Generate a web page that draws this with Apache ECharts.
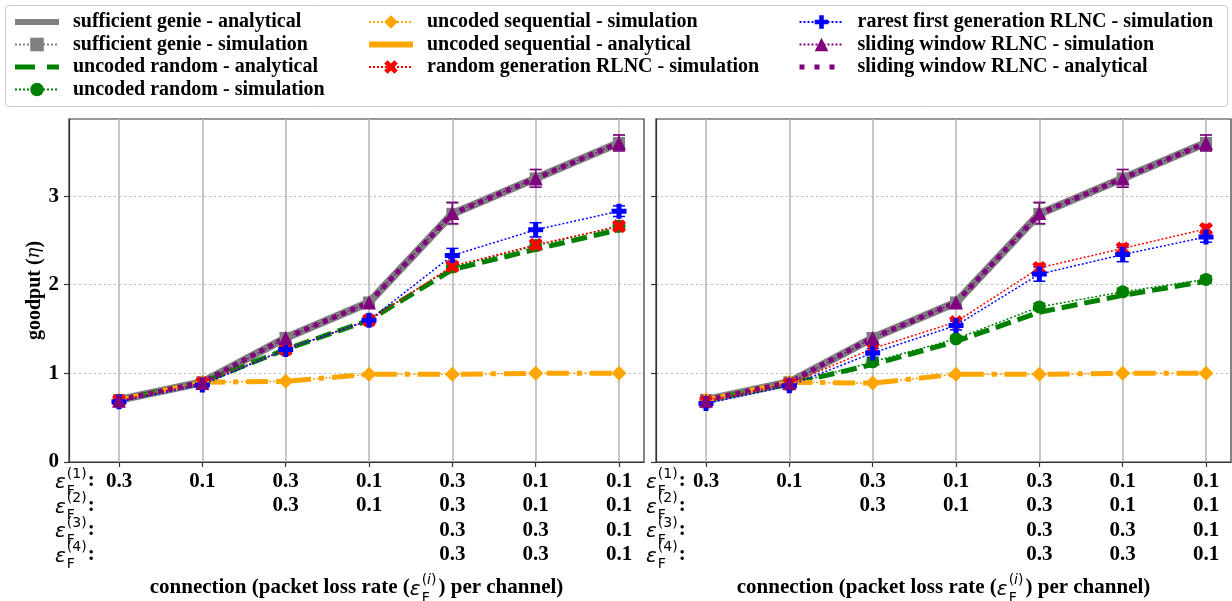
<!DOCTYPE html>
<html>
<head>
<meta charset="utf-8">
<script src="https://cdn.jsdelivr.net/npm/echarts@6/dist/echarts.min.js"></script>
<style>
  html, body { margin: 0; padding: 0; background: #fff; }
  #main { width: 1232px; height: 601px; }
</style>
</head>
<body>
<div id="main"></div>
<script>
// x positions and the loss-rate rows under each connection
const xPos = [0, 1, 2, 3, 4, 5, 6];
const row1 = ['0.3', '0.1', '0.3', '0.1', '0.3', '0.1', '0.1'];
const row2 = ['', '', '0.3', '0.1', '0.3', '0.1', '0.1'];
const row3 = ['', '', '', '', '0.3', '0.3', '0.1'];
const row4 = ['', '', '', '', '0.3', '0.3', '0.1'];
const yTicks = [0, 1, 2, 3];

// left panel
const genieAnaA = [0.7, 0.9, 1.4, 1.8, 2.8, 3.2, 3.6];
const genieSimA = [0.7, 0.9, 1.4, 1.8, 2.8, 3.2, 3.6];
const randAnaA = [0.7, 0.9, 1.27, 1.6, 2.17, 2.4, 2.62];
const randSimA = [0.69, 0.89, 1.27, 1.6, 2.2, 2.44, 2.66];
const seqSimA = [0.7, 0.9, 0.91, 0.99, 0.99, 1.0, 1.0];
const seqAnaA = [0.7, 0.9, 0.91, 0.99, 0.99, 1.0, 1.0];
const rgSimA = [0.69, 0.89, 1.27, 1.6, 2.21, 2.45, 2.66];
const rfSimA = [0.68, 0.87, 1.27, 1.6, 2.33, 2.62, 2.83];
const swSimA = [0.69, 0.89, 1.4, 1.8, 2.81, 3.2, 3.6];
const swAnaA = [0.7, 0.9, 1.4, 1.8, 2.8, 3.2, 3.6];

// right panel
const genieAnaB = [0.7, 0.9, 1.4, 1.8, 2.8, 3.2, 3.6];
const genieSimB = [0.7, 0.9, 1.4, 1.8, 2.8, 3.2, 3.6];
const randAnaB = [0.7, 0.88, 1.1, 1.36, 1.69, 1.88, 2.04];
const randSimB = [0.68, 0.87, 1.13, 1.39, 1.75, 1.92, 2.06];
const seqSimB = [0.7, 0.9, 0.89, 0.99, 0.99, 1.0, 1.0];
const seqAnaB = [0.7, 0.9, 0.89, 0.99, 0.99, 1.0, 1.0];
const rgSimB = [0.68, 0.88, 1.28, 1.58, 2.19, 2.41, 2.63];
const rfSimB = [0.66, 0.86, 1.23, 1.54, 2.12, 2.34, 2.54];
const swSimB = [0.69, 0.89, 1.4, 1.8, 2.81, 3.2, 3.6];
const swAnaB = [0.7, 0.9, 1.4, 1.8, 2.8, 3.2, 3.6];

// error bar half widths
const errGenie = [0.03, 0.03, 0.05, 0.05, 0.12, 0.1, 0.09];
const errRand = [0.02, 0.02, 0.03, 0.03, 0.04, 0.04, 0.04];
const errSeq = [0.01, 0.01, 0.01, 0.01, 0.01, 0.01, 0.01];
const errRg = [0.02, 0.02, 0.04, 0.04, 0.05, 0.05, 0.05];
const errRf = [0.03, 0.03, 0.05, 0.05, 0.08, 0.08, 0.06];
const errSw = [0.03, 0.03, 0.05, 0.05, 0.12, 0.1, 0.09];

const names = [
  'sufficient genie - analytical', 'sufficient genie - simulation',
  'uncoded random - analytical', 'uncoded random - simulation',
  'uncoded sequential - simulation', 'uncoded sequential - analytical',
  'random generation RLNC - simulation', 'rarest first generation RLNC - simulation',
  'sliding window RLNC - simulation', 'sliding window RLNC - analytical'
];
const panelData = [
  [genieAnaA, genieSimA, randAnaA, randSimA, seqSimA, seqAnaA, rgSimA, rfSimA, swSimA, swAnaA],
  [genieAnaB, genieSimB, randAnaB, randSimB, seqSimB, seqAnaB, rgSimB, rfSimB, swSimB, swAnaB]
];
const errs = [null, errGenie, null, errRand, errSeq, null, errRg, errRf, errSw, null];

const DOT = [2, 2];
const PLUS = 'path://M-1,-3L1,-3L1,-1L3,-1L3,1L1,1L1,3L-1,3L-1,1L-3,1L-3,-1L-1,-1Z';
const XMARK = 'path://M2,-4L4,-2L2,0L4,2L2,4L0,2L-2,4L-4,2L-2,0L-4,-2L-2,-4L0,-2Z';
const DIAM = 'path://M0,-1L1,0L0,1L-1,0Z';
const looks = [
  { color: '#808080', width: 8, type: 'solid', symbol: 'none', size: 0, legend: { width: 6, type: 'solid' } },
  { color: '#808080', width: 1.5, type: DOT, symbol: 'rect', size: 12 },
  { color: '#008000', width: 5, type: [16, 7], symbol: 'none', size: 0, legend: { width: 5, type: [20, 12] } },
  { color: '#008000', width: 1.5, type: DOT, symbol: 'circle', size: 13 },
  { color: '#ffa500', width: 1.5, type: DOT, symbol: DIAM, size: 15 },
  { color: '#ffa500', width: 5, type: [22, 8, 5, 8], symbol: 'none', size: 0, legend: { width: 6, type: 'solid' } },
  { color: '#ff0000', width: 1.5, type: DOT, symbol: XMARK, size: 14 },
  { color: '#0000ff', width: 1.5, type: DOT, symbol: PLUS, size: 15 },
  { color: '#800080', width: 1.2, type: DOT, symbol: 'triangle', size: 14 },
  { color: '#800080', width: 5, type: [5, 5], symbol: 'none', size: 0, legend: { width: 5, type: [5, 10] } }
];

const SERIF = '"Liberation Serif", "Times New Roman", serif';

function errorBars(p, k, vals, err) {
  const c = looks[k].color;
  return {
    type: 'custom',
    name: names[k] + ' err',
    xAxisIndex: p,
    yAxisIndex: p,
    silent: true,
    renderItem: function (params, api) {
      const a = api.coord([api.value(0), api.value(1)]);
      const b = api.coord([api.value(0), api.value(2)]);
      const w = 6;
      const st = { stroke: c, lineWidth: 1.5 };
      return {
        type: 'group',
        children: [
          { type: 'line', shape: { x1: a[0], y1: a[1], x2: b[0], y2: b[1] }, style: st },
          { type: 'line', shape: { x1: a[0] - w, y1: a[1], x2: a[0] + w, y2: a[1] }, style: st },
          { type: 'line', shape: { x1: b[0] - w, y1: b[1], x2: b[0] + w, y2: b[1] }, style: st }
        ]
      };
    },
    encode: { x: 0, y: [1, 2] },
    data: vals.map((v, i) => [xPos[i], v - err[i], v + err[i]])
  };
}

const series = [];
for (let p = 0; p < 2; p++) {
  for (let k = 0; k < names.length; k++) {
    const vals = panelData[p][k];
    const lk = looks[k];
    if (errs[k]) series.push(errorBars(p, k, vals, errs[k]));
    series.push({
      type: 'line',
      name: names[k],
      xAxisIndex: p,
      yAxisIndex: p,
      data: vals.map((v, i) => [xPos[i], v]),
      symbol: lk.symbol,
      symbolSize: lk.size,
      showSymbol: lk.symbol !== 'none',
      lineStyle: { color: lk.color, width: lk.width, type: lk.type, cap: 'butt' },
      itemStyle: { color: lk.color },
      emphasis: { disabled: true }
    });
  }
}

// text measuring for the stacked sub/superscripts
const mctx = document.createElement('canvas').getContext('2d');
function tw(t, font) { mctx.font = font; return mctx.measureText(t).width; }
const F_EPS = 'italic 20px "DejaVu Sans"';
const F_SMALL = '14px "DejaVu Sans"';
const F_SMALL_I = 'italic 14px "DejaVu Sans"';
const F_BOLD = 'bold 21px ' + SERIF;

function txt(x, y, t, font, align) {
  return {
    type: 'text', x: x, y: y, silent: true,
    style: { text: t, font: font, fill: '#000', textAlign: align || 'left', textVerticalAlign: 'middle' }
  };
}
function epsGroup(x, y, sup) {
  const we = tw('ε', F_EPS);
  const ws = Math.max(tw('F', F_SMALL), tw(sup, F_SMALL));
  return {
    els: [
      txt(x, y, 'ε', F_EPS),
      txt(x + we + 1, y + 8, 'F', F_SMALL),
      txt(x + we + 1, y - 9, sup, F_SMALL)
    ],
    w: we + 1 + ws
  };
}

const rowY = [481, 505.5, 530, 554.5];
const graphics = [
  { type: 'rect', shape: { x: 5.5, y: 5.5, width: 1222, height: 101, r: 3 }, style: { fill: 'none', stroke: '#cccccc', lineWidth: 1 }, silent: true }
];
const epsX = [55, 646];
for (let p = 0; p < 2; p++) {
  for (let r = 0; r < 4; r++) {
    const g = epsGroup(epsX[p], rowY[r] + 2, '(' + (r + 1) + ')');
    graphics.push(...g.els);
    graphics.push(txt(epsX[p] + g.w + 1, rowY[r], ':', F_BOLD));
  }
  // x axis title
  const part1 = 'connection (packet loss rate (';
  const part2 = ') per channel)';
  const w1 = tw(part1, F_BOLD);
  const w2 = tw(part2, F_BOLD);
  const we = tw('ε', F_EPS) + 1 + Math.max(tw('F', F_SMALL), tw('(i)', F_SMALL_I)) + 2;
  const cx = p === 0 ? 356.5 : 943.5;
  const x0 = cx - (w1 + we + w2) / 2;
  const yt = 588;
  graphics.push(txt(x0, yt, part1, F_BOLD));
  graphics.push(txt(x0 + w1, yt + 2, 'ε', F_EPS));
  const xs = x0 + w1 + tw('ε', F_EPS) + 1;
  graphics.push(txt(xs, yt + 10, 'F', F_SMALL));
  graphics.push(txt(xs, yt - 8, '(', F_SMALL));
  graphics.push(txt(xs + tw('(', F_SMALL), yt - 8, 'i', F_SMALL_I));
  graphics.push(txt(xs + tw('(', F_SMALL) + tw('i', F_SMALL_I), yt - 8, ')', F_SMALL));
  graphics.push(txt(x0 + w1 + we, yt, part2, F_BOLD));
}

function xAxisFor(p) {
  return {
    type: 'value',
    gridIndex: p,
    min: -0.6,
    max: 6.3,
    axisLine: { show: true, onZero: false, lineStyle: { color: '#333', width: 1.2 } },
    axisTick: { show: true, customValues: xPos, length: 5, inside: false, lineStyle: { color: '#333', width: 1.2 } },
    axisLabel: {
      customValues: xPos,
      margin: 7,
      fontFamily: SERIF,
      fontWeight: 'bold',
      fontSize: 21,
      color: '#000',
      lineHeight: 24.5,
      formatter: function (v) {
        const i = Math.round(v);
        return [row1[i], row2[i], row3[i], row4[i]].join('\n');
      }
    },
    splitLine: { show: true, lineStyle: { color: '#b8b8b8', width: 1.6, type: 'solid' } }
  };
}
function yAxisFor(p) {
  return {
    type: 'value',
    gridIndex: p,
    min: 0,
    max: 3.87,
    interval: 1,
    name: p === 0 ? '{b|goodput (}{i|η}{b|)}' : '',
    nameLocation: 'middle',
    nameRotate: 90,
    nameGap: 24,
    nameTextStyle: {
      rich: {
        b: { fontFamily: SERIF, fontWeight: 'bold', fontSize: 20, color: '#000' },
        i: { fontFamily: '"DejaVu Serif"', fontStyle: 'italic', fontSize: 18, color: '#000' }
      }
    },
    axisLine: { show: true, onZero: false, lineStyle: { color: '#333', width: 1.2 } },
    axisTick: { show: true, customValues: yTicks, length: 5, lineStyle: { color: '#333', width: 1.2 } },
    axisLabel: {
      show: p === 0,
      customValues: yTicks,
      margin: 10,
      fontFamily: SERIF,
      fontWeight: 'bold',
      fontSize: 21,
      color: '#000'
    },
    splitLine: { show: true, lineStyle: { color: '#b8b8b8', width: 1, type: [2, 3] } }
  };
}

function legendItem(k) {
  const lk = looks[k];
  if (!lk.legend) return { name: names[k] };
  return {
    name: names[k],
    itemStyle: { color: 'rgba(0,0,0,0)', borderColor: 'rgba(0,0,0,0)', borderWidth: 0 },
    lineStyle: { color: lk.color, width: lk.legend.width, type: lk.legend.type, cap: 'butt' }
  };
}
function legendCol(left, ks) {
  return {
    left: left,
    top: 11,
    orient: 'vertical',
    padding: 0,
    itemWidth: 44,
    itemHeight: 17,
    itemGap: 0.5,
    selectedMode: false,
    data: ks.map(legendItem),
    textStyle: { fontFamily: SERIF, fontWeight: 'bold', fontSize: 20, color: '#000', lineHeight: 22, padding: [0, 0, 0, 9] }
  };
}

const chart = echarts.init(document.getElementById('main'), null, { renderer: 'canvas' });
chart.setOption({
  animation: false,
  backgroundColor: '#fff',
  legend: [
    legendCol(12, [0, 1, 2, 3]),
    legendCol(366, [4, 5, 6]),
    legendCol(797, [7, 8, 9])
  ],
  grid: [
    { left: 69, right: 588, top: 119, bottom: 139, show: true, borderColor: '#333', borderWidth: 1.2, backgroundColor: 'transparent' },
    { left: 656, right: 1, top: 119, bottom: 139, show: true, borderColor: '#333', borderWidth: 1.2, backgroundColor: 'transparent' }
  ],
  xAxis: [xAxisFor(0), xAxisFor(1)],
  yAxis: [yAxisFor(0), yAxisFor(1)],
  graphic: graphics,
  series: series
});
</script>
</body>
</html>
